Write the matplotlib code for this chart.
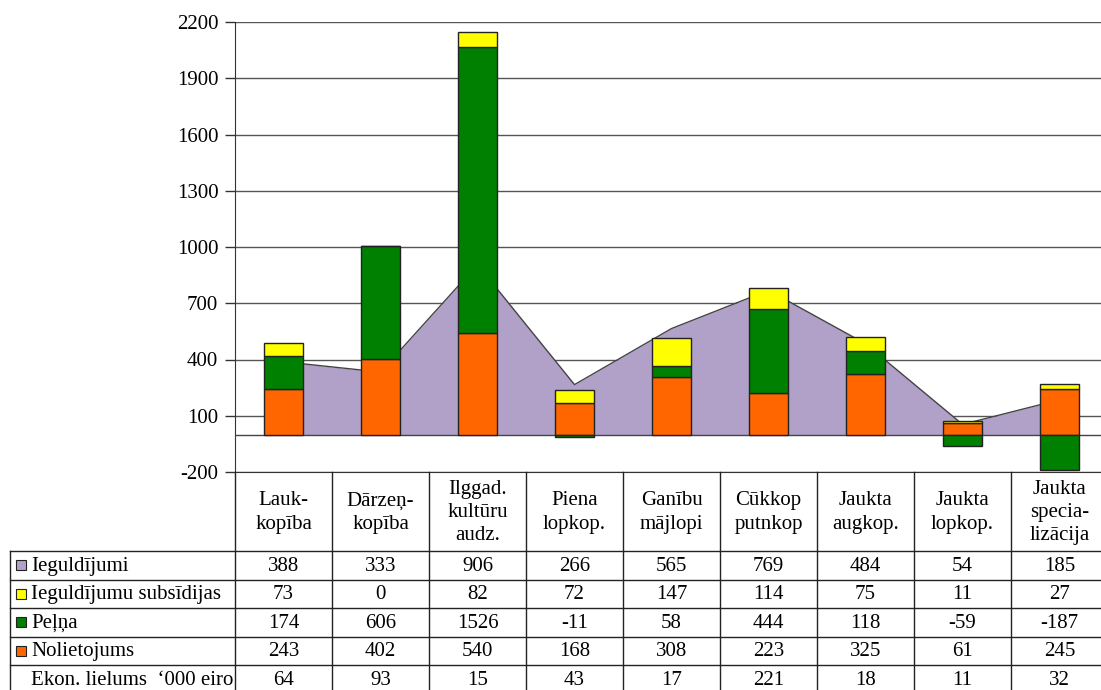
import numpy as np
import matplotlib.pyplot as plt
from matplotlib.patches import Rectangle

plt.rcParams["font.family"] = ["Liberation Serif", "DejaVu Serif"]
plt.rcParams["axes.unicode_minus"] = False

# ----------------------- Data -----------------------
categories = ["Lauk-\nkopība", "Dārzeņ-\nkopība", "Ilggad.\nkultūru\naudz.", "Piena\nlopkop.",
              "Ganību\nmājlopi", "Cūkkop\nputnkop", "Jaukta\naugkop.", "Jaukta\nlopkop.",
              "Jaukta\nspecia-\nlizācija"]
ieguldijumi = [388, 333, 906, 266, 565, 769, 484, 54, 185]
subsidijas = [73, 0, 82, 72, 147, 114, 75, 11, 27]
pelna = [174, 606, 1526, -11, 58, 444, 118, -59, -187]
nolietojums = [243, 402, 540, 168, 308, 223, 325, 61, 245]
ekon_lielums = [64, 93, 15, 43, 17, 221, 18, 11, 32]

row_names = ["Ieguldījumi", "Ieguldījumu subsīdijas", "Peļņa", "Nolietojums", "Ekon. lielums  ‘000 eiro"]
row_values = [ieguldijumi, subsidijas, pelna, nolietojums, ekon_lielums]

C_AREA = "#B1A0C7"
C_SUBS = "#FFFF00"
C_PELNA = "#008000"
C_NOLIET = "#FF6600"
row_colors = [C_AREA, C_SUBS, C_PELNA, C_NOLIET, None]

W, H = 1101, 690
FS = 15

# layout in pixels
X0, COLW = 235, 97
Y_TOP, Y_BOT = 22, 472
ncat = len(categories)

fig = plt.figure(figsize=(W / 100, H / 100), dpi=100)
ax = fig.add_axes([X0 / W, 1 - Y_BOT / H, COLW * ncat / W, (Y_BOT - Y_TOP) / H])

x = np.arange(ncat)
ax.set_xlim(-0.5, ncat - 0.5)
ax.set_ylim(-200, 2200)
ax.set_yticks(np.arange(-200, 2201, 300))
ax.yaxis.grid(True, color="#555555", linewidth=1, zorder=0)
ax.set_axisbelow(True)
ax.tick_params(axis="y", length=7, width=1, color="#333333", labelsize=FS, pad=5)
ax.set_xticks([])
for s in ["top", "right"]:
    ax.spines[s].set_visible(False)
ax.spines["left"].set_color("#333333")
ax.spines["bottom"].set_color("#333333")

# area series
ax.fill_between(x, 0, ieguldijumi, color=C_AREA, linewidth=0, zorder=2)
ax.plot(x, ieguldijumi, color="#444444", linewidth=1, zorder=2.5)
ax.axhline(0, color="#444444", linewidth=1, zorder=3)

# stacked bars (positive up, negative down)
pos = np.zeros(ncat)
neg = np.zeros(ncat)
for vals, col in [(nolietojums, C_NOLIET), (pelna, C_PELNA), (subsidijas, C_SUBS)]:
    v = np.array(vals, dtype=float)
    bottom = np.where(v >= 0, pos, neg)
    ax.bar(x, v, 0.4, bottom=bottom, color=col, edgecolor="#222222", linewidth=1, zorder=4)
    pos = pos + np.where(v >= 0, v, 0)
    neg = neg + np.where(v < 0, v, 0)

# ----------------------- Data table -----------------------
tab = fig.add_axes([0, 0, 1, 1], zorder=5)
tab.set_xlim(0, W)
tab.set_ylim(H, 0)
tab.axis("off")
tab.patch.set_alpha(0)

ROW_H = 28.5
Y_HEAD = 551
x_right = X0 + COLW * ncat
lc = "#222222"
for k in range(ncat + 1):
    tab.plot([X0 + k * COLW] * 2, [Y_BOT, H + 10], color=lc, lw=1)
tab.plot([10, 10], [Y_HEAD, H + 10], color=lc, lw=1)
for r in range(len(row_names) + 1):
    yy = Y_HEAD + r * ROW_H
    tab.plot([10, x_right], [yy, yy], color=lc, lw=1)

for i, name in enumerate(categories):
    tab.text(X0 + (i + 0.5) * COLW, (Y_BOT + Y_HEAD) / 2 + 1, name, ha="center", va="center",
             fontsize=FS, linespacing=1.3)

for r, (name, vals, col) in enumerate(zip(row_names, row_values, row_colors)):
    yc = Y_HEAD + (r + 0.5) * ROW_H
    if col is not None:
        tab.add_patch(Rectangle((16, yc - 5), 10, 10, facecolor=col, edgecolor="#222222", lw=0.8))
    tab.text(31, yc + 1, name, ha="left", va="center", fontsize=FS)
    for i, v in enumerate(vals):
        tab.text(X0 + (i + 0.5) * COLW, yc + 1, str(v), ha="center", va="center", fontsize=FS)

fig.savefig("out.png", dpi=100)
